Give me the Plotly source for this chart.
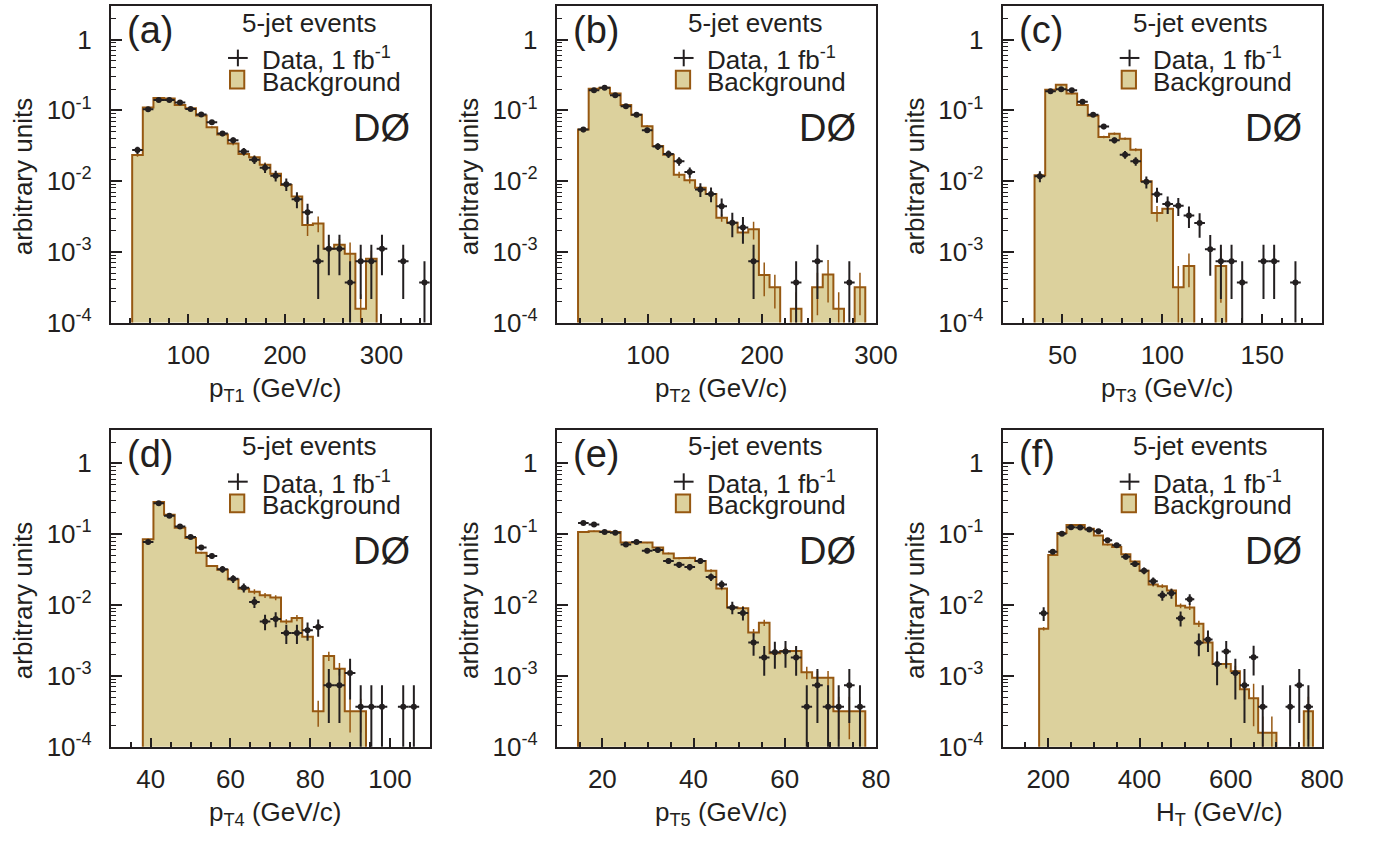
import math
import plotly.graph_objects as go

# ---------------- values ----------------
# normalised weight of one data event (Poisson error bars of the data)
one_event = 3.67e-4

# (a) leading jet pT
a_first_edge = 42.0
a_bin_width = 11.0
a_bkg = [0.0233, 0.110, 0.150, 0.147, 0.119, 0.107, 0.0846, 0.0577, 0.0456, 0.0339,
         0.0241, 0.0217, 0.0170, 0.0127, 0.00877, 0.00604, 0.00239, 0.00252, 0.0011,
         0.00126, 0.000937, 0.000157, 0.0008]
a_bkg_relerr = [0.05, 0.02, 0.02, 0.02, 0.02, 0.02, 0.03, 0.03, 0.04, 0.05, 0.05, 0.06,
                0.08, 0.08, 0.1, 0.12, 0.3, 0.25, 0.2, 0.2, 0.45, 0.6, 0.3]
a_data = [0.0274, 0.1036, 0.1396, 0.1396, 0.1295, 0.1047, 0.0873, 0.0677, 0.0471, 0.0377,
          0.0262, 0.0201, 0.0154, 0.01193, 0.00905, 0.00554, 0.00362, 0.000734, 0.0011,
          0.0011, 0.000367, 0.000734, 0.000734, 0.0011, None, 0.000734, None, 0.000367]

# (b) second jet pT
b_first_edge = 38.667
b_bin_width = 9.3333
b_bkg = [0.0535, 0.2025, 0.209, 0.1726, 0.1189, 0.0864, 0.0596, 0.0314, 0.0236, 0.01232,
         0.01028, 0.00805, 0.00658, 0.00302, 0.00258, 0.00187, 0.00208, 0.000469, 0.000316,
         0, 0.000157, 0, 0.000316, 0.000479, 0.000157, 0, 0.000316]
b_bkg_relerr = [0.03, 0.02, 0.02, 0.02, 0.02, 0.03, 0.03, 0.04, 0.05, 0.1, 0.1, 0.06, 0.06,
                0.12, 0.1, 0.1, 0.28, 0.5, 0.5, 0, 0.7, 0, 0.6, 0.6, 0.7, 0, 0.6]
b_data = [0.0535, 0.192, 0.209, 0.1637, 0.114, 0.0864, 0.0524, 0.0308, 0.0241, 0.0191,
          0.0134, 0.00762, 0.00658, 0.00439, 0.00258, 0.0022, 0.000734, None, None, None,
          0.000367, None, 0.000734, None, None, 0.000367]

# (c) third jet pT
c_first_edge = 36.0
c_bin_width = 5.3333
c_bkg = [0.01206, 0.196, 0.230, 0.1726, 0.1189, 0.0837, 0.0419, 0.0466, 0.0397, 0.0277,
         0.00995, 0.00355, 0.00407, 0.000316, 0.000632, 0, 0, 0.000632]
c_bkg_relerr = [0.05, 0.02, 0.02, 0.02, 0.02, 0.03, 0.04, 0.04, 0.04, 0.05, 0.08, 0.25,
                0.15, 1.0, 0.5, 0, 0, 0.7]
c_data = [0.0117, 0.186, 0.198, 0.192, 0.1324, 0.0864, 0.0589, 0.0377, 0.0236, 0.0191,
          0.00975, 0.0065, 0.00473, 0.00448, 0.00326, 0.00255, 0.00109, 0.000734, 0.000734,
          0.000367, None, 0.000734, 0.000734, None, 0.000367]

# (d) fourth jet pT
d_first_edge = 38.0
d_bin_width = 2.6667
d_bkg = [0.0847, 0.285, 0.188, 0.123, 0.0883, 0.0547, 0.0357, 0.0315, 0.0229, 0.0170,
         0.0154, 0.01371, 0.01274, 0.00585, 0.00658, 0.00355, 0.000317, 0.00191, 0.00126,
         0.000317, 0.000317]
d_bkg_relerr = [0.03, 0.02, 0.02, 0.02, 0.02, 0.03, 0.03, 0.04, 0.05, 0.06, 0.08, 0.08,
                0.08, 0.08, 0.1, 0.1, 0.4, 0.15, 0.2, 0.5, 0.5]
d_data = [0.0777, 0.273, 0.182, 0.128, 0.0912, 0.0649, 0.0492, 0.0321, 0.0234, 0.01754,
          0.01107, 0.00585, 0.00637, 0.00403, 0.00403, 0.00439, 0.00489, 0.000734, 0.000734,
          0.0011, 0.000367, 0.000367, 0.000367, None, 0.000367, 0.000367]

# (e) fifth jet pT
e_first_edge = 14.667
e_bin_width = 2.3333
e_bkg = [0.107, 0.1104, 0.1094, 0.107, 0.0762, 0.0762, 0.0762, 0.0649, 0.0536, 0.0457,
         0.0466, 0.0420, 0.0305, 0.01715, 0.00926, 0.00897, 0.00408, 0.00561, 0.00208,
         0.00224, 0.00224, 0.00112, 0.000937, 0.000937, 0.000317, 0.000317, 0.000317]
e_bkg_relerr = [0.02, 0.02, 0.02, 0.02, 0.02, 0.02, 0.02, 0.02, 0.03, 0.03, 0.03, 0.04,
                0.05, 0.06, 0.08, 0.08, 0.12, 0.1, 0.15, 0.15, 0.15, 0.2, 0.25, 0.25,
                0.6, 0.6, 0.6]
e_data = [0.144, 0.1368, 0.107, 0.1048, 0.0715, 0.0777, 0.0583, 0.0596, 0.0420, 0.0369,
          0.0343, 0.0420, 0.0249, 0.0195, 0.00926, 0.00772, 0.00296, 0.00182, 0.00215,
          0.0022, 0.00182, 0.000367, 0.000734, 0.000367, 0.000367, 0.000734, 0.000367]

# (f) HT
f_first_edge = 180.0
f_bin_width = 20.0
f_bkg = [0.00463, 0.0508, 0.1036, 0.1353, 0.1353, 0.119, 0.0962, 0.0715, 0.0662, 0.0519,
         0.0410, 0.0305, 0.0195, 0.01846, 0.01607, 0.00975, 0.00925, 0.00543, 0.00296,
         0.00147, 0.00147, 0.00116, 0.000646, 0.000484, 0.000157, 0.000157, 0, 0, 0,
         0.000317]
f_bkg_relerr = [0.06, 0.03, 0.02, 0.02, 0.02, 0.02, 0.02, 0.03, 0.03, 0.04, 0.04, 0.05,
                0.06, 0.06, 0.06, 0.08, 0.08, 0.1, 0.12, 0.15, 0.15, 0.2, 0.3, 0.6, 0.7,
                0.7, 0, 0, 0, 0.6]
f_data = [0.00764, 0.0565, 0.1016, 0.1255, 0.1242, 0.1165, 0.1104, 0.082, 0.070, 0.0481,
          0.0381, 0.0305, 0.0217, 0.01371, 0.01462, 0.00652, 0.01208, 0.00293, 0.00326,
          0.00147, 0.0022, 0.0011, 0.000734, 0.00183, 0.000367, None, None, 0.000367,
          0.000734, 0.000367]

panel_labels = ["(a)", "(b)", "(c)", "(d)", "(e)", "(f)"]
x_titles = ["p<sub>T1</sub> (GeV/c)", "p<sub>T2</sub> (GeV/c)", "p<sub>T3</sub> (GeV/c)",
            "p<sub>T4</sub> (GeV/c)", "p<sub>T5</sub> (GeV/c)", "H<sub>T</sub> (GeV/c)"]
x_ranges = [[20, 350], [20, 300], [20, 180], [30, 110], [10, 80], [100, 800]]
x_major = [[100, 200, 300], [100, 200, 300], [50, 100, 150], [40, 60, 80, 100],
           [20, 40, 60, 80], [200, 400, 600, 800]]
x_minor_step = [20, 20, 10, 5, 5, 50]
y_title = "arbitrary units"
legend_title = "5-jet events"
legend_data = "Data, 1 fb<sup>-1</sup>"
legend_bkg = "Background"
experiment = "DØ"

# ---------------- styling ----------------
FONT = "Liberation Sans, Arial, Helvetica, sans-serif"
INK = "#231f20"
FILL = "rgb(220,209,157)"
EDGE = "rgb(150,88,18)"
W, H = 1392, 853
col_px = [(112.7, 436.7), (565.7, 890.0), (1018.7, 1343.3)]
row_px = [(6.0, 328.3), (437.3, 760.0)]
x_title_pos = [0.516, 0.516, 0.516, 0.516, 0.516, 0.68]

panels = [
    (a_first_edge, a_bin_width, a_bkg, a_bkg_relerr, a_data),
    (b_first_edge, b_bin_width, b_bkg, b_bkg_relerr, b_data),
    (c_first_edge, c_bin_width, c_bkg, c_bkg_relerr, c_data),
    (d_first_edge, d_bin_width, d_bkg, d_bkg_relerr, d_data),
    (e_first_edge, e_bin_width, e_bkg, e_bkg_relerr, e_data),
    (f_first_edge, f_bin_width, f_bkg, f_bkg_relerr, f_data),
]

FLOOR = 1e-9
y_major = [1e-4, 1e-3, 1e-2, 1e-1, 1]
y_major_text = ["10<sup>-4</sup>", "10<sup>-3</sup>", "10<sup>-2</sup>", "10<sup>-1</sup>", "1"]
y_minor = [k * 10.0 ** d for d in range(-4, 0) for k in range(2, 10)] + [2, 3]

fig = go.Figure()
annotations = []
shapes = []

for p, (first, width, bkg, relerr, data) in enumerate(panels):
    suf = "" if p == 0 else str(p + 1)
    xa, ya = "x" + suf, "y" + suf
    row, col = divmod(p, 3)
    x0, x1 = col_px[col]
    y0, y1 = row_px[row]
    pw, ph = x1 - x0, y1 - y0

    # background histogram outline + fill
    hx, hy = [first], [FLOOR]
    for i, v in enumerate(bkg):
        lo = first + i * width
        vv = v if v > 0 else FLOOR
        hx += [lo, lo + width]
        hy += [vv, vv]
    hx.append(first + len(bkg) * width)
    hy.append(FLOOR)
    fig.add_trace(go.Scatter(x=hx, y=hy, xaxis=xa, yaxis=ya, mode="lines", fill="toself",
                             fillcolor=FILL, line=dict(color=EDGE, width=2),
                             hoverinfo="skip", showlegend=False))

    # background uncertainties
    bx, by, be = [], [], []
    for i, v in enumerate(bkg):
        if v > 0 and relerr[i] > 0:
            bx.append(first + (i + 0.5) * width)
            by.append(v)
            be.append(v * relerr[i])
    bem = [min(e, 0.999 * v) for e, v in zip(be, by)]
    fig.add_trace(go.Scatter(x=bx, y=by, xaxis=xa, yaxis=ya, mode="markers",
                             marker=dict(size=1, color="rgba(0,0,0,0)"),
                             error_y=dict(type="data", array=be, arrayminus=bem,
                                          color=EDGE, thickness=1.5, width=0),
                             hoverinfo="skip", showlegend=False))

    # data points
    dx, dy, de, dem = [], [], [], []
    for i, v in enumerate(data):
        if v is None:
            continue
        dx.append(first + (i + 0.5) * width)
        dy.append(v)
        e = math.sqrt(v / one_event) * one_event
        de.append(e)
        dem.append(min(e, 0.9999 * v))
    fig.add_trace(go.Scatter(x=dx, y=dy, xaxis=xa, yaxis=ya, mode="markers",
                             marker=dict(size=6, color=INK),
                             error_y=dict(type="data", array=de, arrayminus=dem,
                                          color=INK, thickness=2, width=0),
                             error_x=dict(type="constant", value=width / 2,
                                          color=INK, thickness=2, width=0),
                             hoverinfo="skip", showlegend=False))

    lo_r, hi_r = x_ranges[p]
    step = x_minor_step[p]
    minor_vals = []
    t = math.ceil(lo_r / step) * step
    while t <= hi_r + 1e-9:
        if t not in x_major[p]:
            minor_vals.append(t)
        t += step

    fig.layout["xaxis" + suf] = dict(
        domain=[x0 / W, x1 / W], anchor=ya, range=x_ranges[p],
        tickmode="array", tickvals=x_major[p], ticks="inside", ticklen=9, tickwidth=1.5,
        tickcolor=INK, showline=True, linewidth=2, linecolor=INK, mirror=True,
        showgrid=False, zeroline=False, ticklabelstandoff=8,
        tickfont=dict(family=FONT, size=26, color=INK),
        minor=dict(tickvals=minor_vals, ticks="inside", ticklen=4.5, tickwidth=1.5,
                   tickcolor=INK, showgrid=False))
    fig.layout["yaxis" + suf] = dict(
        domain=[1 - y1 / H, 1 - y0 / H], anchor=xa, type="log",
        range=[-4, math.log10(3)], tickmode="array", tickvals=y_major,
        ticktext=y_major_text, ticks="inside", ticklen=11, tickwidth=1.5, tickcolor=INK,
        showline=True, linewidth=2, linecolor=INK, mirror=True, showgrid=False,
        zeroline=False, ticklabelstandoff=12,
        tickfont=dict(family=FONT, size=26, color=INK),
        minor=dict(tickvals=y_minor, ticks="inside", ticklen=5.5, tickwidth=1.2,
                   tickcolor=INK, showgrid=False))

    xr, yr = xa + " domain", ya + " domain"

    def fx(px):
        return px / pw

    def fy(py):
        return 1 - py / ph

    def ann(text, x, y, size, xanchor="center", yanchor="middle", **kw):
        annotations.append(dict(text=text, x=x, y=y, xref=xr, yref=yr, xanchor=xanchor,
                                yanchor=yanchor, showarrow=False,
                                font=dict(family=FONT, size=size, color=INK), **kw))

    ann(panel_labels[p], fx(14.5), fy(25), 38, xanchor="left")
    ann(legend_title, fx(201), fy(17), 26)
    ann(legend_data, fx(151), fy(54), 26, xanchor="left")
    ann(legend_bkg, fx(151), fy(77), 26, xanchor="left")
    ann(experiment, fx(275), fy(124), 38)
    ann(y_title, fx(-89), 0.5 - 12 / ph, 26, textangle=-90)
    ann(x_titles[p], x_title_pos[p], fy(ph + 68), 26)

    # legend symbols
    shapes.append(dict(type="line", xref=xr, yref=yr, x0=fx(119), x1=fx(139),
                       y0=fy(53), y1=fy(53), line=dict(color=INK, width=2)))
    shapes.append(dict(type="line", xref=xr, yref=yr, x0=fx(129), x1=fx(129),
                       y0=fy(44.5), y1=fy(61.5), line=dict(color=INK, width=2)))
    shapes.append(dict(type="rect", xref=xr, yref=yr, x0=fx(121), x1=fx(135.5),
                       y0=fy(84), y1=fy(66), fillcolor=FILL, line=dict(color=EDGE, width=2)))

fig.update_layout(width=W, height=H, margin=dict(l=0, r=0, t=0, b=0),
                  paper_bgcolor="white", plot_bgcolor="white", showlegend=False,
                  annotations=annotations, shapes=shapes,
                  font=dict(family=FONT, color=INK))
fig.write_html("out.html", config={"displayModeBar": False},
               post_script="document.body.style.margin='0px';")
